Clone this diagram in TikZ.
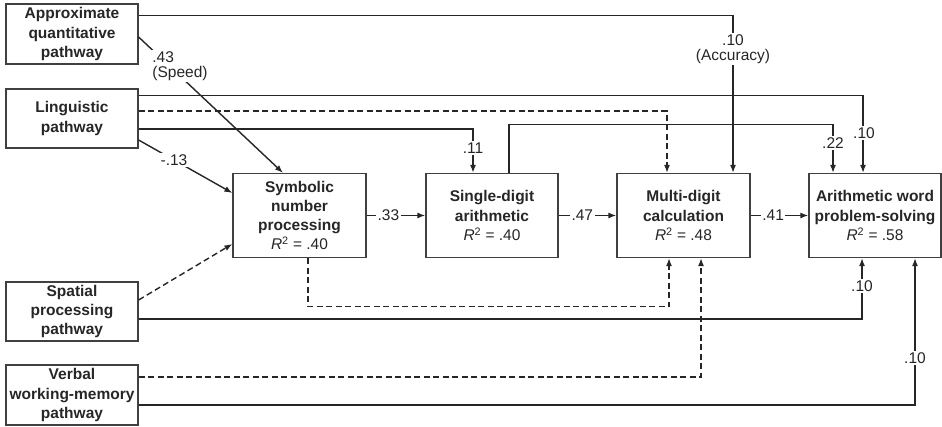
\documentclass[tikz,border=0pt]{standalone}
\usepackage{fontspec}
\setmainfont{Liberation Sans}
\usetikzlibrary{arrows.meta}
\newcommand{\myrsq}[1]{{\mdseries\textit{R}\textsuperscript{2} = #1}}
\begin{document}
\begin{tikzpicture}[x=1pt,y=-1pt,
  box/.style={draw=black!75, line width=1.2pt, align=center, inner sep=0pt,
    minimum width=132pt, minimum height=84pt,
    font=\fontsize{15.5}{19.3}\selectfont\bfseries, text=black!85},
  pbox/.style={box, minimum height=60pt},
  conn/.style={line width=1.4pt, draw=black!85, -{Latex[length=8pt,width=6pt]}},
  dconn/.style={conn, dash pattern=on 6pt off 3.5pt},
  lab/.style={fill=white, inner sep=1.5pt, font=\fontsize{15.5}{15}\selectfont, text=black!85},
]
\useasboundingbox (0,0) rectangle (942,427);

% boxes
\node[pbox] (A) at (72,34) {Approximate\\quantitative\\pathway};
\node[pbox, minimum height=59pt] (L) at (72,118.5) {Linguistic\\pathway};
\node[pbox, minimum height=59pt] (S) at (72,311.5) {Spatial\\processing\\pathway};
\node[pbox] (V) at (72,395) {Verbal\\working-memory\\pathway};
\node[box, minimum width=133pt] (SN) at (299.5,215.5) {Symbolic\\number\\processing\\\myrsq{.40}};
\node[box] (SD) at (492,215.5) {Single-digit\\arithmetic\\\myrsq{.40}};
\node[box, minimum width=133pt] (MD) at (683.5,215.5) {Multi-digit\\calculation\\\myrsq{.48}};
\node[box] (AW) at (875,215.5) {Arithmetic word\\problem-solving\\\myrsq{.58}};

% approximate quantitative pathway
\draw[conn] ([yshift=-12pt]A.north east) -| ([xshift=49.5pt]MD.north);
\node[lab, align=center] (l10a) at (733,49) {.10\\(Accuracy)};
\draw[conn] ([yshift=-3pt]A.east) -- ([xshift=-16.5pt]SN.north);
\node[lab, align=left] (l43) at (180,66) {.43\\(Speed)};

% linguistic pathway
\draw[conn] ([yshift=-7pt]L.north east) -| ([xshift=-12pt]AW.north);
\node[lab] (l10b) at (864,133) {.10};
\draw[dconn] ([yshift=7.5pt]L.east) -| ([xshift=-16.5pt]MD.north);
\draw[conn] ([yshift=-10.5pt]L.east) -| ([xshift=-19pt]SD.north);
\node[lab] (l11) at (473,148) {.11};
\draw[conn] ([yshift=-21.5pt]L.east) -- ([yshift=22.5pt]SN.west);
\node[lab] (l13) at (174,160) {-.13};

% single-digit to word problems
\draw[conn] ([xshift=17pt]SD.north) |- ([xshift=-42pt,yshift=48.5pt]AW.north) -- ([xshift=-42pt]AW.north);
\node[lab] (l22) at (833,143) {.22};

% spatial pathway
\draw[dconn] ([yshift=11.5pt]S.east) -- ([yshift=-28.5pt]SN.west);
\draw[conn] ([yshift=-7.5pt]S.east) -| ([xshift=-13pt]AW.south);
\node[lab] (l10c) at (862,286) {.10};

% symbolic to multi-digit (dashed)
\draw[dconn] ([xshift=8.5pt]SN.south) |- ([xshift=-14.5pt,yshift=-48.5pt]MD.south) -- ([xshift=-14.5pt]MD.south);

% verbal working memory pathway
\draw[dconn] ([yshift=18pt]V.east) -| ([xshift=17.5pt]MD.south);
\draw[conn] ([yshift=-10pt]V.east) -| ([xshift=40pt]AW.south);
\node[lab] (l10d) at (915,358) {.10};

% main chain
\draw[conn] (SN.east) -- node[lab, pos=0.37] (l33) {.33} (SD.west);
\draw[conn] (SD.east) -- node[lab, pos=0.41] (l47) {.47} (MD.west);
\draw[conn] (MD.east) -- node[lab, pos=0.39] (l41) {.41} (AW.west);
\end{tikzpicture}
\end{document}
